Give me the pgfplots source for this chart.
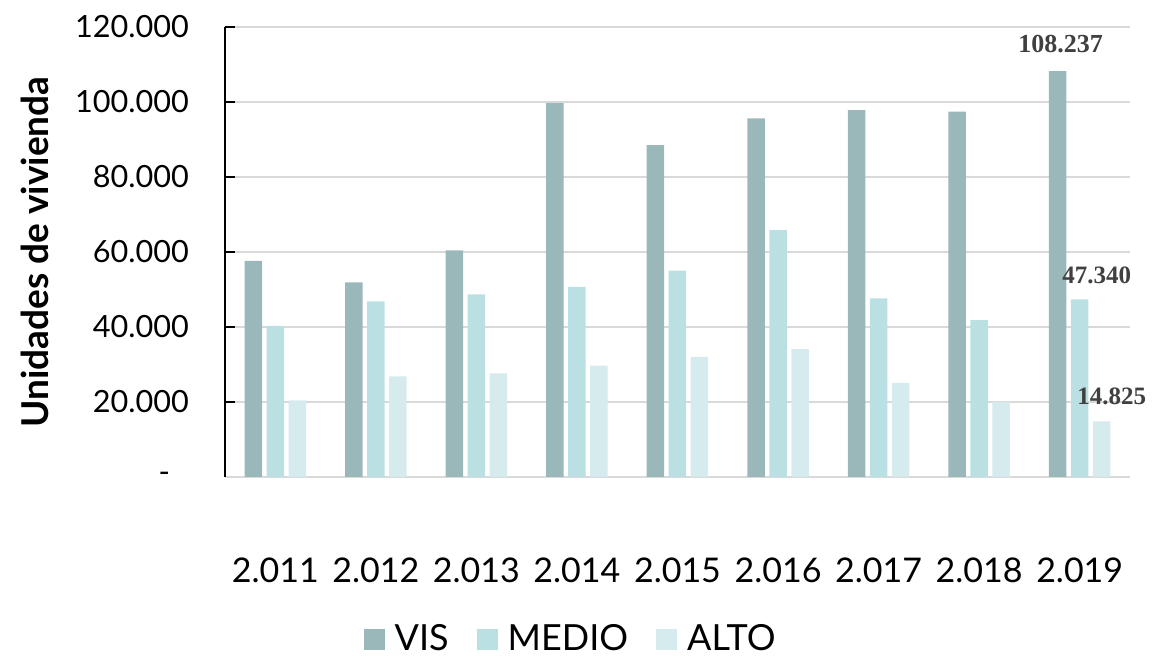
\documentclass[border=0pt]{standalone}
\usepackage{fontspec}
\setmainfont{Lato}
\newfontfamily\labfont{Liberation Serif}
\usepackage{pgfplots}
\pgfplotsset{compat=1.18}
\definecolor{cvis}{HTML}{9AB8BA}
\definecolor{cmedio}{HTML}{BAE0E3}
\definecolor{calto}{HTML}{D6EBEE}
\definecolor{gridc}{HTML}{D9D9D9}
\definecolor{labc}{HTML}{404040}
\begin{document}
\begin{tikzpicture}
\path[use as bounding box] (-112.5pt,-90pt) rectangle (464pt,238.5pt);
\begin{axis}[
  scale only axis, width=452.5pt, height=225pt,
  xmin=-0.5, xmax=8.5, ymin=0, ymax=120000,
  clip=false,
  scaled y ticks=false,
  ybar=2.25pt, bar width=8.75pt,
  axis x line*=bottom, axis y line*=left,
  x axis line style={draw=gridc, line width=1pt, -},
  y axis line style={draw=black, line width=1pt, -},
  xtick={0,...,8},
  xticklabels={2.011,2.012,2.013,2.014,2.015,2.016,2.017,2.018,2.019},
  major x tick style={draw=none},
  xticklabel style={font=\fontsize{17}{20}\selectfont, yshift=-37pt},
  ytick={0,20000,40000,60000,80000,100000,120000},
  yticklabels={-\makebox[9.5pt]{},20.000,40.000,60.000,80.000,100.000,120.000},
  yticklabel style={font=\fontsize{15.3}{18}\selectfont, xshift=-14.5pt},
  tick align=inside, major tick length=5pt,
  major y tick style={draw=black, line width=1pt},
  ymajorgrids, major grid style={draw=gridc, line width=1pt},
  ylabel={Unidades de vivienda},
  ylabel style={font=\bfseries\fontsize{18.5}{22}\selectfont, at={(axis description cs:-0.21,0.5)}, anchor=center},
  legend columns=3,
  legend style={draw=none, fill=none, at={(0.383,-0.36)}, anchor=center,
    font=\fontsize{18}{21}\selectfont,
    /tikz/every odd column/.append style={column sep=3pt},
    /tikz/every even column/.append style={column sep=12pt}},
  legend image code/.code={\fill[#1] (0pt,-5.5pt) rectangle (10.5pt,5pt);},
]
\addplot[fill=cvis, draw=none] coordinates {(0,57600) (1,51900) (2,60400) (3,99700) (4,88500) (5,95600) (6,97800) (7,97400) (8,108237)};
\addplot[fill=cmedio, draw=none] coordinates {(0,40300) (1,46800) (2,48700) (3,50700) (4,55000) (5,65800) (6,47600) (7,41800) (8,47340)};
\addplot[fill=calto, draw=none] coordinates {(0,20400) (1,26800) (2,27600) (3,29700) (4,32000) (5,34100) (6,25100) (7,20000) (8,14825)};
\legend{VIS,MEDIO,ALTO}
\node[font=\labfont\bfseries\fontsize{13}{15}\selectfont, text=labc, anchor=base] at ([xshift=-9.5pt,yshift=9.5pt]axis cs:8,108237) {108.237};
\node[font=\labfont\bfseries\fontsize{12.5}{14}\selectfont, text=labc, anchor=base] at ([xshift=8.5pt,yshift=8pt]axis cs:8,47340) {47.340};
\node[font=\labfont\bfseries\fontsize{12.5}{14}\selectfont, text=labc, anchor=base] at ([xshift=16pt,yshift=8.3pt]axis cs:8,14825) {14.825};
\end{axis}
\end{tikzpicture}
\end{document}
